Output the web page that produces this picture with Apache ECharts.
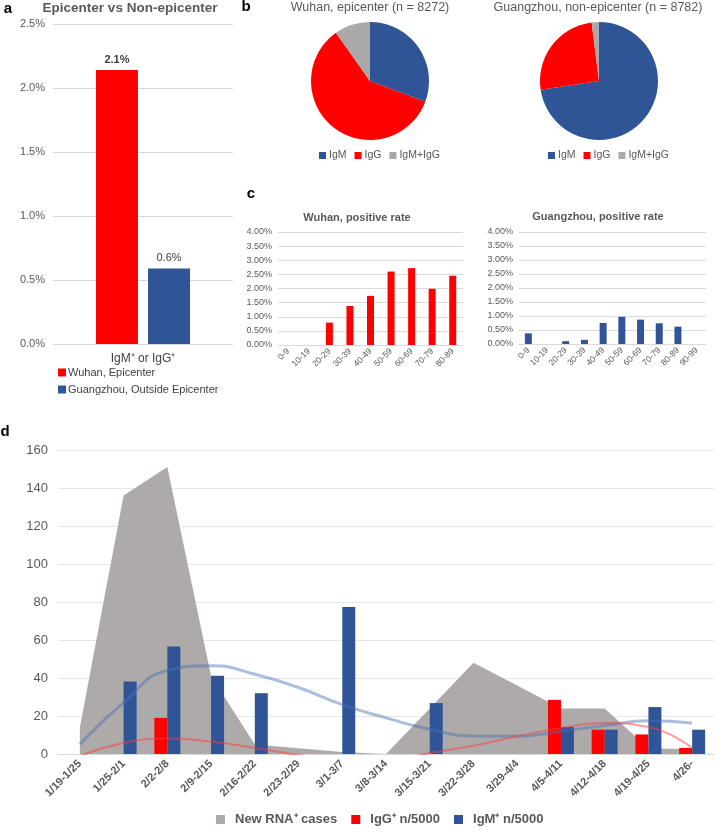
<!DOCTYPE html>
<html><head><meta charset="utf-8">
<script src="https://cdn.jsdelivr.net/npm/echarts@6/dist/echarts.min.js"></script>
<style>html,body{margin:0;padding:0;background:#fff}#c{width:718px;height:832px}</style>
</head><body><div id="c"></div>
<script>
// ---- Panel a ----
const aCategories = ['IgM\u207A or IgG\u207A'];
const aWuhan = [2.14];
const aGuangzhou = [0.59];
const aTicks = [0, 0.5, 1.0, 1.5, 2.0, 2.5];
// ---- Panel b ----
const bNames = ['IgM', 'IgG', 'IgM+IgG'];
const bWuhan = [30.7, 59.5, 9.8];
const bGuangzhou = [72.6, 25.4, 2.0];
// ---- Panel c ----
const cWuhanAges = ['0-9','10-19','20-29','30-39','40-49','50-59','60-69','70-79','80-89'];
const cWuhanRate = [0, 0, 0.79, 1.38, 1.74, 2.60, 2.72, 1.99, 2.45];
const cGzAges = ['0-9','10-19','20-29','30-39','40-49','50-59','60-69','70-79','80-89','90-99'];
const cGzRate = [0.38, 0, 0.10, 0.15, 0.75, 0.97, 0.87, 0.74, 0.62, 0];
// ---- Panel d ----
const dWeeks = ['1/19-1/25','1/25-2/1','2/2-2/8','2/9-2/15','2/16-2/22','2/23-2/29','3/1-3/7','3/8-3/14','3/15-3/21','3/22-3/28','3/29-4/4','4/5-4/11','4/12-4/18','4/19-4/25','4/26-'];
const dRna = [14, 136, 151, 41, 5, 3, 1, 0, 24, 48, 36, 24, 24, 3, 2.5];
const dIgG = [0, 0, 19, 0, 0, 0, 0, 0, 0, 0, 0, 28.5, 12.8, 10.3, 3.2];
const dIgM = [0, 38.2, 56.6, 41.2, 32, 0, 77.4, 0, 26.8, 0, 0, 14.2, 12.8, 24.7, 12.8];
const dIgMTrend = [5, 27, 44, 46.5, 42, 35, 26, 19, 13, 9.5, 9.3, 12, 15, 17.5, 16.3];
const dIgGTrend = [-1, 5.8, 8.2, 6.6, 3.2, -0.5, -3.5, -3.5, 0.5, 4.4, 9.3, 13.7, 16.3, 14.2, 3.2];

const RED = '#FF0000', BLUE = '#2F5597', GRAY = '#A9A9A9', AREA = '#AEAAAA';
const TXT = '#595959', GRID = '#D9D9D9';
const FONT = 'Liberation Sans, Arial, sans-serif';

const chart = echarts.init(document.getElementById('c'));

function txt(x, y, s, font, fill, align) {
  return {type: 'text', x: x, y: y, style: {text: s, font: font, fill: fill || TXT, align: align || 'center', verticalAlign: 'middle'}};
}

const option = {
  animation: false,
  textStyle: {fontFamily: FONT},
  graphic: [
    txt(8, 9, 'a', 'bold 15px ' + FONT, '#000'),
    txt(130, 8, 'Epicenter vs Non-epicenter', 'bold 13.5px ' + FONT),
    txt(246, 7, 'b', 'bold 15px ' + FONT, '#000'),
    txt(370, 8, 'Wuhan, epicenter (n = 8272)', '12.5px ' + FONT),
    txt(598, 8, 'Guangzhou, non-epicenter (n = 8782)', '12.5px ' + FONT),
    txt(251, 194, 'c', 'bold 15px ' + FONT, '#000'),
    txt(357, 218, 'Wuhan, positive rate', 'bold 11px ' + FONT),
    txt(598, 217, 'Guangzhou, positive rate', 'bold 11px ' + FONT),
    txt(5, 432, 'd', 'bold 15px ' + FONT, '#000')
  ],
  legend: [
    {data: ['Wuhan, Epicenter', 'Guangzhou, Outside Epicenter'], orient: 'vertical', left: 58, top: 367,
     icon: 'rect', itemWidth: 8, itemHeight: 8, itemGap: 6, padding: 0,
     textStyle: {fontSize: 11, color: '#404040', padding: [0, 0, 0, -3]}},
    {data: bNames, left: 319, top: 150, icon: 'rect', itemWidth: 7, itemHeight: 7, itemGap: 8, padding: 0,
     textStyle: {fontSize: 10.5, color: TXT, padding: [0, 0, 0, -2]}},
    {data: bNames, left: 548, top: 150, icon: 'rect', itemWidth: 7, itemHeight: 7, itemGap: 8, padding: 0,
     textStyle: {fontSize: 10.5, color: TXT, padding: [0, 0, 0, -2]}},
    {data: ['New RNA\u207A cases', 'IgG\u207A n/5000', 'IgM\u207A n/5000'], left: 216, top: 813,
     icon: 'rect', itemWidth: 9, itemHeight: 9, itemGap: 14, padding: 0,
     textStyle: {fontSize: 13, fontWeight: 'bold', color: TXT, padding: [0, 0, 0, 5]}}
  ],
  grid: [
    {left: 53, top: 24, width: 180, height: 320},
    {left: 278, top: 232, width: 185, height: 113},
    {left: 519, top: 232, width: 187, height: 112},
    {left: 58, top: 450, width: 656, height: 304}
  ],
  xAxis: [
    {gridIndex: 0, type: 'category', data: aCategories, axisLine: {show: false}, axisTick: {show: false},
     axisLabel: {fontSize: 12, color: '#404040', margin: 9}},
    {gridIndex: 1, type: 'category', data: cWuhanAges, axisLine: {lineStyle: {color: GRID}}, axisTick: {show: false},
     axisLabel: {fontSize: 8.5, color: TXT, rotate: 45, margin: 5, interval: 0}},
    {gridIndex: 2, type: 'category', data: cGzAges, axisLine: {lineStyle: {color: GRID}}, axisTick: {show: false},
     axisLabel: {fontSize: 8.5, color: TXT, rotate: 45, margin: 5, interval: 0}},
    {gridIndex: 3, type: 'category', data: dWeeks, axisLine: {lineStyle: {color: GRID}}, axisTick: {show: false},
     axisLabel: {fontSize: 11, fontWeight: 'bold', color: TXT, rotate: 45, margin: 8, interval: 0}}
  ],
  yAxis: [
    {gridIndex: 0, type: 'value', min: aTicks[0], max: aTicks[aTicks.length - 1], interval: 0.5,
     axisLabel: {fontSize: 11, color: TXT, margin: 8, formatter: v => v.toFixed(1) + '%'},
     splitLine: {lineStyle: {color: GRID}}},
    {gridIndex: 1, type: 'value', min: 0, max: 4, interval: 0.5,
     axisLabel: {fontSize: 9, color: TXT, margin: 6, formatter: v => v.toFixed(2) + '%'},
     splitLine: {lineStyle: {color: GRID}}},
    {gridIndex: 2, type: 'value', min: 0, max: 4, interval: 0.5,
     axisLabel: {fontSize: 9, color: TXT, margin: 6, formatter: v => v.toFixed(2) + '%'},
     splitLine: {lineStyle: {color: GRID}}},
    {gridIndex: 3, type: 'value', min: 0, max: 160, interval: 20,
     axisLabel: {fontSize: 13, color: TXT, margin: 10},
     splitLine: {lineStyle: {color: '#E6E6E6'}}}
  ],
  series: [
    {name: 'Wuhan, Epicenter', type: 'bar', xAxisIndex: 0, yAxisIndex: 0, data: aWuhan,
     barWidth: 42, barGap: '24%', itemStyle: {color: RED},
     label: {show: true, position: 'top', fontSize: 11, fontWeight: 'bold', color: '#404040', formatter: p => p.value.toFixed(1) + '%'}},
    {name: 'Guangzhou, Outside Epicenter', type: 'bar', xAxisIndex: 0, yAxisIndex: 0, data: aGuangzhou,
     barWidth: 42, barGap: '24%', itemStyle: {color: BLUE},
     label: {show: true, position: 'top', fontSize: 11, color: '#404040', formatter: p => p.value.toFixed(1) + '%'}},
    {name: 'Wuhan pie', type: 'pie', center: [370, 81], radius: 59, startAngle: 90, clockwise: true,
     label: {show: false}, labelLine: {show: false}, silent: true,
     data: bNames.map((n, i) => ({name: n, value: bWuhan[i], itemStyle: {color: [BLUE, RED, GRAY][i]}}))},
    {name: 'Guangzhou pie', type: 'pie', center: [599, 81], radius: 59, startAngle: 90, clockwise: true,
     label: {show: false}, labelLine: {show: false}, silent: true,
     data: bNames.map((n, i) => ({name: n, value: bGuangzhou[i], itemStyle: {color: [BLUE, RED, GRAY][i]}}))},
    {name: 'Wuhan rate', type: 'bar', xAxisIndex: 1, yAxisIndex: 1, data: cWuhanRate, barWidth: 7, itemStyle: {color: RED}},
    {name: 'Guangzhou rate', type: 'bar', xAxisIndex: 2, yAxisIndex: 2, data: cGzRate, barWidth: 7, itemStyle: {color: BLUE}},
    {name: 'New RNA\u207A cases', type: 'line', xAxisIndex: 3, yAxisIndex: 3, data: dRna, symbol: 'none',
     lineStyle: {width: 0}, itemStyle: {color: AREA}, areaStyle: {color: AREA, opacity: 1}, z: 1},
    {name: 'IgG\u207A n/5000', type: 'bar', xAxisIndex: 3, yAxisIndex: 3, data: dIgG, barWidth: 13, barGap: 0,
     itemStyle: {color: RED}, z: 2},
    {name: 'IgM\u207A n/5000', type: 'bar', xAxisIndex: 3, yAxisIndex: 3, data: dIgM, barWidth: 13, barGap: 0,
     itemStyle: {color: BLUE}, z: 2},
    {name: 'IgM trend', type: 'line', xAxisIndex: 3, yAxisIndex: 3, data: dIgMTrend, smooth: 0.5, symbol: 'none',
     lineStyle: {width: 3, color: 'rgba(70,110,180,0.45)'}, clip: true, z: 3},
    {name: 'IgG trend', type: 'line', xAxisIndex: 3, yAxisIndex: 3, data: dIgGTrend, smooth: 0.5, symbol: 'none',
     lineStyle: {width: 2, color: 'rgba(255,60,60,0.5)'}, clip: true, z: 3}
  ]
};
chart.setOption(option);
</script></body></html>
